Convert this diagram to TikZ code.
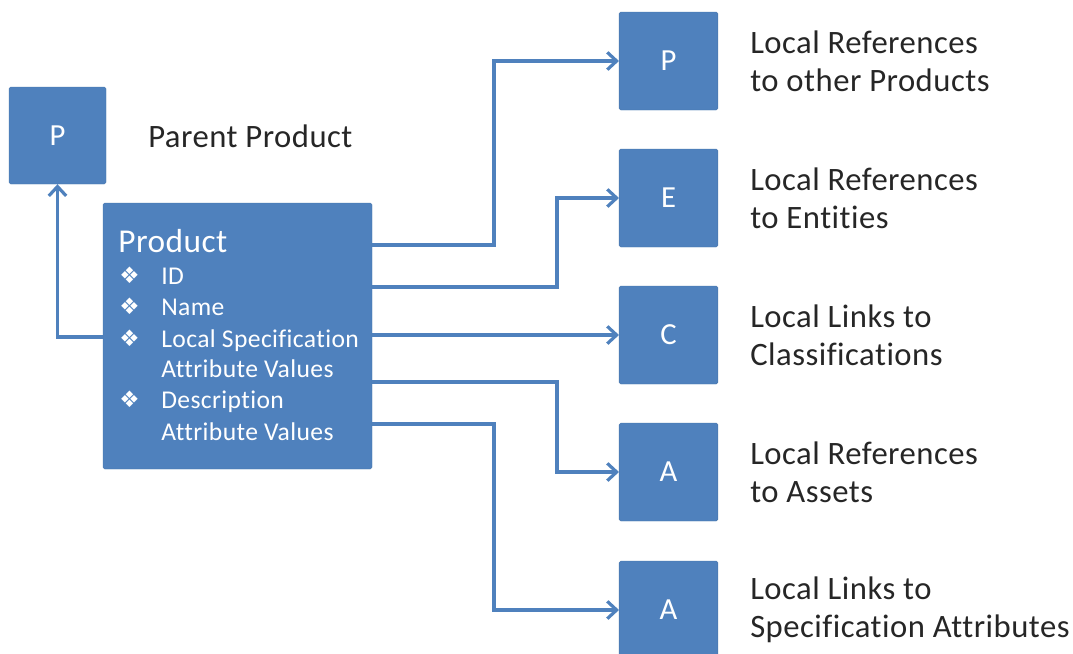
\documentclass[tikz,border=0pt]{standalone}
\usepackage{fontspec}
\setmainfont{Carlito}[Ligatures=NoCommon, LetterSpace=1.5]
\newfontfamily\dejavu{DejaVu Sans}
\usetikzlibrary{arrows.meta,calc}
\definecolor{ofblue}{HTML}{4F81BD}
\tikzset{
  box/.style={fill=ofblue, draw=ofblue!90!black, line width=0.3pt, rounded corners=1.2pt, inner sep=0pt},
  sq/.style={box, minimum width=74pt, minimum height=73.5pt, text=white, font=\fontsize{23}{27}\selectfont},
  lbl/.style={anchor=west, align=left, inner sep=0pt, font=\fontsize{24.5}{28.5}\selectfont, text=black!85},
  item/.style={anchor=base west, inner sep=0pt, text=white, font=\fontsize{19.2}{23}\selectfont},
  bul/.style={anchor=base west, inner sep=0pt, text=white, font=\dejavu\fontsize{17}{19}\selectfont},
  arr/.style={draw=ofblue, line width=2.4pt, -{Straight Barb[length=7pt,width=13pt]}}
}
\begin{document}
\begin{tikzpicture}[x=0.75pt,y=-0.75pt]
\useasboundingbox (0,0) rectangle (1073,653);
\clip (0,0) rectangle (1073,653);
% parent
\node[sq, minimum width=72.75pt, minimum height=72.75pt] (pp) at (57.5,135.5) {P};
\node[anchor=base west, inner sep=0pt, font=\fontsize{24.5}{28}\selectfont, text=black!85] (ppl) at (148,147) {Parent Product};
% product
\node[box, minimum width=201.75pt, minimum height=199.5pt] (prod) at (237.5,336) {};
\node[anchor=base west, inner sep=0pt, text=white, font=\fontsize{25}{28}\selectfont] (ptitle) at (118,252) {Product};
\node[bul] (b1) at (119,283) {❖};
\node[bul] (b2) at (119,314) {❖};
\node[bul] (b3) at (119,346) {❖};
\node[bul] (b4) at (119,407) {❖};
\node[item] (i1) at (161,284) {ID};
\node[item] (i2) at (161,315) {Name};
\node[item] (i3) at (161,347) {Local Specification};
\node[item] (i3b) at (161,377) {Attribute Values};
\node[item] (i4) at (161,408) {Description};
\node[item] (i4b) at (161,440) {Attribute Values};
% right boxes
\node[sq] (rP) at (668.5,61) {P};
\node[sq] (rE) at (668.5,198) {E};
\node[sq] (rC) at (668.5,335) {C};
\node[sq] (rA) at (668.5,472) {A};
\node[sq] (rS) at (668.5,610) {A};
% labels
\node[lbl] (lP) at (750,61) {Local References\\to other Products};
\node[lbl] (lE) at (750,198) {Local References\\to Entities};
\node[lbl] (lC) at (750,335) {Local Links to\\Classifications};
\node[lbl] (lA) at (750,472) {Local References\\to Assets};
\node[lbl] (lS) at (750,610) {Local Links to\\Specification Attributes};
% connectors
\draw[arr] ($(prod.west)+(0,1)$) -| (pp.south);
\draw[arr] ($(prod.east)+(0,-91)$) -| ($(rP.west)+(-125,0)$) -- (rP.west);
\draw[arr] ($(prod.east)+(0,-49)$) -| ($(rE.west)+(-62,0)$) -- (rE.west);
\draw[arr] ($(prod.east)+(0,-1)$) -- (rC.west);
\draw[arr] ($(prod.east)+(0,46)$) -| ($(rA.west)+(-62,0)$) -- (rA.west);
\draw[arr] ($(prod.east)+(0,88)$) -| ($(rS.west)+(-125,0)$) -- (rS.west);
\end{tikzpicture}
\end{document}
